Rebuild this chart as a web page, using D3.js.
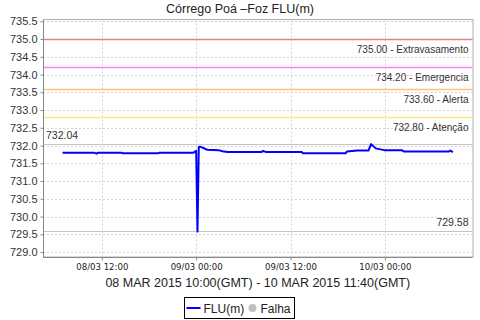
<!DOCTYPE html>
<html><head><meta charset="utf-8">
<script src="https://cdn.jsdelivr.net/npm/d3@7"></script>
<style>body{margin:0;background:#fff}svg{display:block}</style>
</head><body><svg id="c" width="480" height="320"></svg>
<script>
// Data (local time, GMT-3)
const times = [
"2015-03-08 07:00","2015-03-08 11:00","2015-03-08 11:20","2015-03-08 11:30","2015-03-08 14:30","2015-03-08 14:40",
"2015-03-08 19:10","2015-03-08 19:20","2015-03-08 23:40","2015-03-09 00:00","2015-03-09 00:10","2015-03-09 00:20",
"2015-03-09 00:30","2015-03-09 01:25","2015-03-09 02:50","2015-03-09 03:20","2015-03-09 04:00","2015-03-09 08:20",
"2015-03-09 08:30","2015-03-09 08:50","2015-03-09 13:25","2015-03-09 13:35","2015-03-09 19:00","2015-03-09 19:10",
"2015-03-09 20:30","2015-03-09 21:55","2015-03-09 22:15","2015-03-09 22:50","2015-03-09 23:55","2015-03-10 02:10",
"2015-03-10 02:25","2015-03-10 08:10","2015-03-10 08:20","2015-03-10 08:40"];
const values = [
731.80,731.80,731.77,731.80,731.80,731.78,
731.78,731.80,731.80,731.85,729.58,731.96,
731.97,731.88,731.87,731.84,731.82,731.82,
731.85,731.82,731.82,731.78,731.78,731.83,
731.86,731.86,732.04,731.92,731.87,731.87,
731.83,731.83,731.86,731.81];
const thresholdValues = [735.00, 734.20, 733.60, 732.80];
const thresholdNames = ["Extravasamento","Emergencia","Alerta","Atenção"];
const thresholdColors = ["#e88080","#ff80ff","#ffc080","#ffe680"];
const yTicks = [729.0,729.5,730.0,730.5,731.0,731.5,732.0,732.5,733.0,733.5,734.0,734.5,735.0,735.5];
const xTickLabels = ["08/03 12:00","09/03 00:00","09/03 12:00","10/03 00:00"];
const title = "Córrego Poá –Foz FLU(m)";
const xTitle = "08 MAR 2015 10:00(GMT) - 10 MAR 2015 11:40(GMT)";
const legendLabels = ["FLU(m)","Falha"];

const parse = d3.utcParse("%Y-%m-%d %H:%M");
const parseTick = d3.utcParse("%d/%m %H:%M");
const data = times.map((t,i)=>({t:parse(t), v:values[i]}));
const xTicks = xTickLabels.map(s=>{const d=parseTick(s); d.setUTCFullYear(2015); return d;});

const svg = d3.select("#c");
const L=43, R=472.5, T=19.5, B=257;
const t0=data[0].t, t1=data[data.length-1].t, span=t1-t0;
const x = d3.scaleUtc().domain([new Date(+t0-span*0.05), new Date(+t1+span*0.05)]).range([L,R]);
const y = d3.scaleLinear().domain([728.86,735.55]).range([B,T]);
const font = "'Liberation Sans', Arial, sans-serif";

// grid
svg.append("g").selectAll("line").data(yTicks).join("line")
 .attr("x1",L).attr("x2",R).attr("y1",d=>Math.round(y(d))+0.5).attr("y2",d=>Math.round(y(d))+0.5)
 .attr("stroke","#d4d4d4").attr("stroke-dasharray","2,2");
svg.append("g").selectAll("line").data(xTicks).join("line")
 .attr("y1",T).attr("y2",B).attr("x1",d=>Math.round(x(d))+0.5).attr("x2",d=>Math.round(x(d))+0.5)
 .attr("stroke","#d4d4d4").attr("stroke-dasharray","2,2");

// frame
svg.append("rect").attr("x",L+0.5).attr("y",T).attr("width",R-L).attr("height",B-T)
 .attr("fill","none").attr("stroke","#b0b0b0");

// min/max lines
const vmax=d3.max(values), vmin=d3.min(values);
[vmax,vmin].forEach(v=>{
 svg.append("line").attr("x1",L).attr("x2",R).attr("y1",Math.round(y(v))+0.5).attr("y2",Math.round(y(v))+0.5)
  .attr("stroke","#c4c4c4").attr("stroke-width",1.2);
});
svg.append("text").attr("x",L+3).attr("y",y(vmax)-5).attr("font-family",font).attr("font-size",10.5)
 .attr("fill","#333").text(vmax.toFixed(2));
svg.append("text").attr("x",R-4).attr("y",y(vmin)-5).attr("text-anchor","end").attr("font-family",font).attr("font-size",10.5)
 .attr("fill","#333").text(vmin.toFixed(2));

// thresholds
thresholdValues.forEach((v,i)=>{
 const yy=Math.round(y(v))+0.5;
 svg.append("line").attr("x1",L).attr("x2",R).attr("y1",yy).attr("y2",yy)
  .attr("stroke",thresholdColors[i]).attr("stroke-width",1.5);
 svg.append("text").attr("x",R-4).attr("y",yy+13).attr("text-anchor","end").attr("font-family",font)
  .attr("font-size",10).attr("fill","#333").text(v.toFixed(2)+" - "+thresholdNames[i]);
});

// line
svg.append("path").datum(data).attr("fill","none").attr("stroke","#0000ff").attr("stroke-width",2)
 .attr("stroke-linejoin","round")
 .attr("d",d3.line().x(d=>x(d.t)).y(d=>y(d.v)));

// axes
const ya = svg.append("g").attr("transform",`translate(${L+0.5},0)`)
 .call(d3.axisLeft(y).tickValues(yTicks).tickFormat(d3.format(".1f")).tickSize(3).tickPadding(3));
ya.select(".domain").attr("stroke","#888").attr("d",`M0,${T}V${B}`);
ya.selectAll(".tick line").attr("stroke","#888");
ya.selectAll("text").attr("font-family",font).attr("font-size",11).attr("fill","#333");

const xa = svg.append("g").attr("transform",`translate(0,${B+0.5})`)
 .call(d3.axisBottom(x).tickValues(xTicks).tickFormat(d3.utcFormat("%d/%m %H:%M")).tickSize(3).tickPadding(3));
xa.select(".domain").attr("stroke","#888").attr("d",`M${L},0H${R}`);
xa.selectAll(".tick line").attr("stroke","#888");
xa.selectAll("text").attr("font-family","'DejaVu Sans Condensed','DejaVu Sans',sans-serif").attr("font-size",9.5).attr("fill","#222");

// titles
svg.append("text").attr("x",240).attr("y",13).attr("text-anchor","middle").attr("font-family",font)
 .attr("font-size",12.5).attr("fill","#222").text(title);
svg.append("text").attr("x",(L+R)/2).attr("y",287).attr("text-anchor","middle").attr("font-family",font)
 .attr("font-size",12.5).attr("fill","#222").text(xTitle);

// legend
const lg = svg.append("g").attr("transform","translate(184.5,297.5)");
lg.append("rect").attr("width",110).attr("height",21).attr("fill","#fff").attr("stroke","#000");
lg.append("line").attr("x1",2).attr("x2",16).attr("y1",10.5).attr("y2",10.5).attr("stroke","#0000ff").attr("stroke-width",2);
lg.append("text").attr("x",19).attr("y",15).attr("font-family",font).attr("font-size",12).attr("fill","#222").text(legendLabels[0]);
lg.append("circle").attr("cx",68).attr("cy",10.5).attr("r",4).attr("fill","#c0c0c0");
lg.append("text").attr("x",76).attr("y",15).attr("font-family",font).attr("font-size",12).attr("fill","#222").text(legendLabels[1]);
</script></body></html>
